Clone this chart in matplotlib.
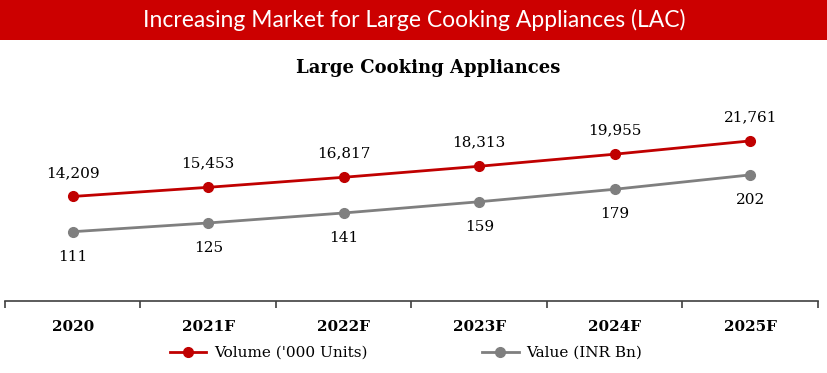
import matplotlib
matplotlib.use("Agg")
import matplotlib.pyplot as plt
from matplotlib.patches import Rectangle

years = ["2020", "2021F", "2022F", "2023F", "2024F", "2025F"]
volume = [14209, 15453, 16817, 18313, 19955, 21761]
value = [111, 125, 141, 159, 179, 202]

red = "#C00000"
grey = "#7F7F7F"
serif = "DejaVu Serif"

fig = plt.figure(figsize=(8.28, 3.73), dpi=100)

# red banner at the top
fig.patches.append(Rectangle((0, 1 - 40 / 373), 1, 40 / 373, transform=fig.transFigure,
                             facecolor="#CC0000", edgecolor="none"))
fig.text(0.5, 1 - 20 / 373, "Increasing Market for Large Cooking Appliances (LAC)",
         color="white", fontsize=16.5, family="Lato", ha="center", va="center")

fig.text(428 / 828, 1 - 68 / 373, "Large Cooking Appliances", family=serif,
         fontsize=13, fontweight="bold", ha="center", va="center")

ax = fig.add_axes([5 / 828, 1 - 301 / 373, 813 / 828, 206 / 373])
ax2 = ax.twinx()
x = range(len(years))

ax.plot(x, volume, color=red, lw=2, marker="o", ms=7, label="Volume ('000 Units)")
ax2.plot(x, value, color=grey, lw=2, marker="o", ms=7, label="Value (INR Bn)")

for i, v in enumerate(volume):
    ax.annotate(f"{v:,}", (i, v), xytext=(0, 17), textcoords="offset points",
                ha="center", va="center", family=serif, fontsize=11)
for i, v in enumerate(value):
    ax2.annotate(f"{v}", (i, v), xytext=(0, -18), textcoords="offset points",
                 ha="center", va="center", family=serif, fontsize=11)

ax.set_ylim(0, 28000)
ax2.set_ylim(0, 330)
ax.set_xlim(-0.5, len(years) - 0.5)

for a in (ax, ax2):
    for s in ("top", "left", "right"):
        a.spines[s].set_visible(False)
    a.set_yticks([])
ax2.spines["bottom"].set_visible(False)
ax.spines["bottom"].set_color("#404040")
ax.spines["bottom"].set_linewidth(1.2)

ax.set_xticks([i - 0.5 for i in range(len(years) + 1)])
ax.set_xticklabels([])
ax.tick_params(axis="x", which="major", length=5, width=1.2, color="#404040")
ax.set_xticks(list(x), minor=True)
ax.set_xticklabels(years, minor=True, family=serif, fontsize=11, fontweight="bold")
ax.tick_params(axis="x", which="minor", length=0, pad=14)

h1, l1 = ax.get_legend_handles_labels()
h2, l2 = ax2.get_legend_handles_labels()
fig.legend(h1 + h2, l1 + l2, loc="center", bbox_to_anchor=(406 / 828, 1 - 353 / 373),
           ncol=2, frameon=False, prop={"family": serif, "size": 11}, columnspacing=7.5,
           handlelength=2.4, handletextpad=0.5)

fig.savefig("out.png", dpi=100)
